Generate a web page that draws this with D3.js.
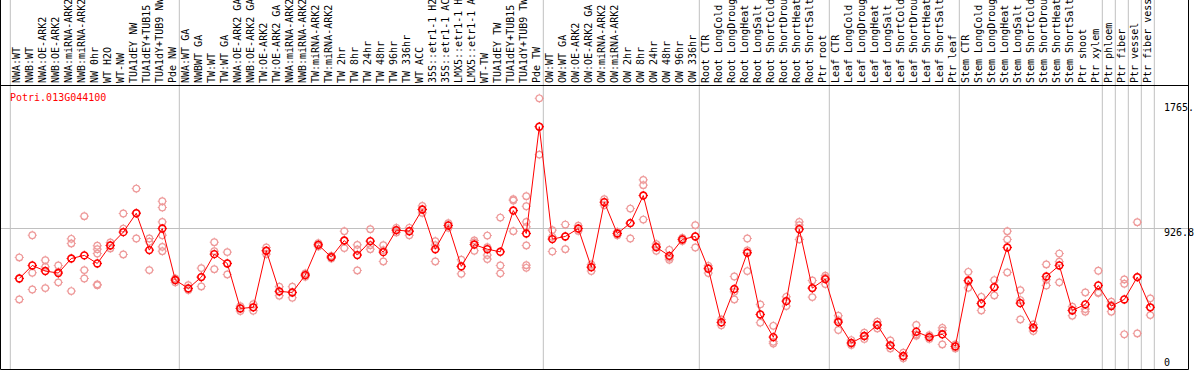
<!DOCTYPE html>
<html>
<head>
<meta charset="utf-8">
<script src="https://cdn.jsdelivr.net/npm/d3@7"></script>
<style>
  body { margin: 0; background: #fff; }
  svg { display: block; font-family: "DejaVu Sans Mono", monospace; }
</style>
</head>
<body>
<svg id="chart"></svg>
<script>
const geneId = "Potri.013G044100";

const samples = [
  "NWA:WT", "NWB:WT", "NWA:OE-ARK2", "NWB:OE-ARK2", "NWA:miRNA-ARK2", "NWB:miRNA-ARK2",
  "NW 0hr", "WT H2O", "WT-NW", "TUA1dEY NW", "TUA1dEY+TUB15", "TUA1dY+TUB9 NW", "Pde NW",
  "NWA:WT GA", "NWBWT GA", "TW:WT", "TW:WT GA", "NWA:OE-ARK2 GA", "NWB:OE-ARK2 GA",
  "TW:OE-ARK2", "TW:OE-ARK2 GA", "NWA:miRNA-ARK2", "NWB:miRNA-ARK2", "TW:miRNA-ARK2",
  "TW:miRNA-ARK2", "TW 2hr", "TW 8hr", "TW 24hr", "TW 48hr", "TW 96hr", "TW 336hr",
  "WT ACC", "35S::etr1-1 H2O", "35S::etr1-1 ACC", "LMX5::etr1-1 H2O", "LMX5::etr1-1 ACC",
  "WT-TW", "TUA1dEY TW", "TUA1dEY+TUB15", "TUA1dY+TUB9 TW", "Pde TW",
  "OW:WT", "OW:WT GA", "OW:OE-ARK2", "OW:OE-ARK2 GA", "OW:miRNA-ARK2", "OW:miRNA-ARK2",
  "OW 2hr", "OW 8hr", "OW 24hr", "OW 48hr", "OW 96hr", "OW 336hr",
  "Root CTR", "Root LongCold", "Root LongDrought", "Root LongHeat", "Root LongSalt",
  "Root ShortCold", "Root ShortDrought", "Root ShortHeat", "Root ShortSalt", "Ptr root",
  "Leaf CTR", "Leaf LongCold", "Leaf LongDrought", "Leaf LongHeat", "Leaf LongSalt",
  "Leaf ShortCold", "Leaf ShortDrought", "Leaf ShortHeat", "Leaf ShortSalt", "Ptr leaf",
  "Stem CTR", "Stem LongCold", "Stem LongDrought", "Stem LongHeat", "Stem LongSalt",
  "Stem ShortCold", "Stem ShortDrought", "Stem ShortHeat", "Stem ShortSalt", "Ptr shoot",
  "Ptr xylem", "Ptr phloem", "Ptr fiber", "Ptr vessel", "Ptr fiber vessel"
];

// index of the first sample of each group (last entry = end)
const groupStarts = [0, 13, 41, 53, 63, 73, 84, 85, 86, 87, 88];

const means = [
  603, 687, 651, 638, 732, 752, 700, 816, 902, 1024, 786, 925, 593,
  539, 612, 760, 700, 410, 417, 782, 520, 513, 625, 820, 741, 848, 754, 844, 773,
  915, 908, 1048, 792, 945, 681, 822, 792, 775, 1041, 893, 1582,
  857, 874, 925, 676, 1095, 893, 960, 1138, 805, 749, 855, 874,
  666, 320, 535, 769, 371, 225, 457, 921, 541, 599,
  322, 187, 232, 303, 172, 103, 260, 225, 243, 165,
  590, 442, 547, 803, 444, 285, 616, 687, 397, 436, 558,
  425, 468, 612, 417
];

const replicates = [
  [739, 603, 468], [882, 640, 532], [721, 678, 541], [687, 646, 578], [859, 829, 522],
  [1005, 657, 603], [814, 792, 764, 565, 560], [835, 816, 797], [1022, 925, 758],
  [1183, 1024, 861], [861, 840, 657], [1101, 1061, 968, 882, 807, 779], [603, 593, 578],
  [560, 539, 528], [670, 612, 552], [837, 779, 663], [773, 700, 629], [425, 410, 393],
  [438, 417, 395], [803, 782, 760], [550, 517, 492], [550, 513, 479], [636, 625, 614],
  [831, 820, 810], [749, 741, 732], [908, 848, 799], [820, 790, 655], [921, 818, 792],
  [818, 786, 713], [930, 915, 900], [930, 908, 882], [1071, 1048, 1026], [844, 818, 713],
  [960, 945, 930], [724, 681, 633], [848, 835, 782], [880, 805, 754, 728], [996, 687, 636],
  [1114, 1106, 908], [1134, 1069, 968, 936, 816, 689, 672], [1765, 1582, 1402],
  [915, 872, 777], [951, 874, 792], [943, 925, 910], [694, 676, 651], [1114, 1095, 1076],
  [904, 893, 882], [1054, 960, 861], [1239, 1205, 983], [825, 810, 782], [788, 736, 724],
  [865, 855, 844], [947, 874, 803],
  [685, 672, 638], [339, 320, 301], [616, 517, 468], [861, 784, 651], [436, 371, 318],
  [298, 195, 183], [485, 457, 425], [968, 947, 855], [590, 541, 483], [621, 608, 567],
  [363, 335, 271], [206, 187, 174], [253, 232, 213], [324, 303, 281], [204, 172, 152],
  [124, 103, 88], [303, 243, 234], [238, 225, 213], [285, 268, 178], [178, 165, 152],
  [646, 582, 543], [485, 442, 397], [593, 547, 494], [908, 855, 642], [528, 464, 339],
  [307, 285, 264], [694, 595, 558], [764, 711, 578], [421, 397, 363], [513, 406, 389],
  [653, 513, 509], [453, 432, 389], [597, 569, 243], [966, 612, 249], [475, 417, 367]
];

const yMax = 1765;
const yTicks = [1765, 926.8, 0];
const yTickLabels = ["1765.", "926.8", "0"];

const width = 1194;
const height = 370;
const headerH = 85;
const plotBottom = 369;
const rightEdge = 1188;

const svg = d3.select("#chart")
  .attr("width", width)
  .attr("height", height);

const x = d3.scaleBand()
  .domain(d3.range(samples.length))
  .range([10.3, 10.3 + 13 * samples.length])
  .padding(0);

const cx = (i) => x(i) + 9;

const y = d3.scaleLinear()
  .domain([0, yMax])
  .range([372, 98.3]);

// group separators
const sepX = (k) => k < samples.length ? x(k) : x(samples.length - 1) + x.bandwidth();

svg.append("g")
  .selectAll("line")
  .data(groupStarts)
  .join("line")
  .attr("x1", (k) => sepX(k))
  .attr("x2", (k) => sepX(k))
  .attr("y1", 0)
  .attr("y2", plotBottom)
  .attr("stroke", "#c0c0c0")
  .attr("stroke-width", 1);

// reference line at the middle tick
svg.append("line")
  .attr("x1", 0)
  .attr("x2", rightEdge)
  .attr("y1", Math.round(y(yTicks[1])) + 0.5)
  .attr("y2", Math.round(y(yTicks[1])) + 0.5)
  .attr("stroke", "#c0c0c0");

// frame
svg.append("path")
  .attr("d", `M0.5,0 V${plotBottom + 0.5} H${rightEdge + 0.5} V0`)
  .attr("fill", "none")
  .attr("stroke", "#000");

svg.append("line")
  .attr("x1", 0)
  .attr("x2", rightEdge + 1)
  .attr("y1", headerH + 0.5)
  .attr("y2", headerH + 0.5)
  .attr("stroke", "#000");

// sample labels
svg.append("g")
  .selectAll("text")
  .data(samples)
  .join("text")
  .attr("transform", (d, i) => `translate(${cx(i) + 0.5},${headerH - 2}) rotate(-90)`)
  .attr("font-size", 10)
  .attr("fill", "#000")
  .text((d) => d);

// gene id
svg.append("text")
  .attr("x", 10)
  .attr("y", 101)
  .attr("font-size", 10)
  .attr("fill", "#ff0000")
  .text(geneId);

// y labels on the right
svg.append("g")
  .selectAll("text")
  .data(yTicks)
  .join("text")
  .attr("x", 1164)
  .attr("y", (d) => Math.min(Math.max(y(d) + 7.5, 111), 366))
  .attr("font-size", 10)
  .attr("fill", "#000")
  .text((d, i) => yTickLabels[i]);

function marker(g, r, color, sw) {
  g.append("circle")
    .attr("r", r)
    .attr("fill", "none")
    .attr("stroke", color)
    .attr("stroke-width", sw);
  g.append("path")
    .attr("d", `M0,${-r - 1.3}V${-r}M0,${r}V${r + 1.3}M${-r - 1.3},0H${-r}M${r},0H${r + 1.3}`)
    .attr("stroke", color)
    .attr("stroke-width", 1);
}

// replicates
const repPoints = replicates.flatMap((vals, i) => vals.map((v) => ({ i, v })));

svg.append("g")
  .selectAll("g")
  .data(repPoints)
  .join("g")
  .attr("transform", (d) => `translate(${cx(d.i)},${y(d.v)})`)
  .each(function () { marker(d3.select(this), 3.3, "#ee9a9a", 1.2); });

// mean line
const line = d3.line()
  .x((d, i) => cx(i))
  .y((d) => y(d));

svg.append("path")
  .datum(means)
  .attr("d", line)
  .attr("fill", "none")
  .attr("stroke", "#ff0000")
  .attr("stroke-width", 1);

svg.append("g")
  .selectAll("g")
  .data(means)
  .join("g")
  .attr("transform", (d, i) => `translate(${cx(i)},${y(d)})`)
  .each(function () { marker(d3.select(this), 3.4, "#ff0000", 1.6); });
</script>
</body>
</html>
